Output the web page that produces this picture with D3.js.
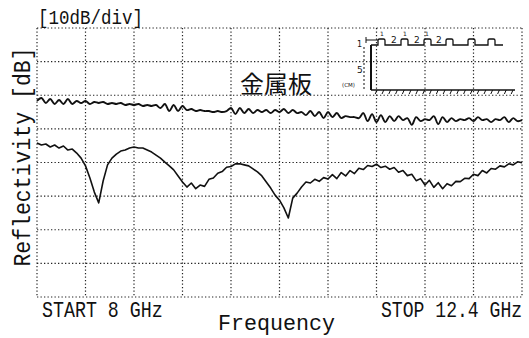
<!DOCTYPE html>
<html>
<head>
<meta charset="utf-8">
<script src="https://cdn.jsdelivr.net/npm/d3@7"></script>
<style>
  body { margin: 0; background: #fff; }
  svg { display: block; }
  .mono { font-family: "Liberation Mono", "DejaVu Sans Mono", monospace; fill: #111; }
</style>
</head>
<body>
<svg id="chart" width="529" height="338"></svg>
<script>

// sweep 8 - 12.4 GHz, one reading every 0.04 GHz (111 points)
let sweepStart = 8
let sweepStop = 12.4
let sweepStep = 0.04

// metal plate reference trace [dB]
let metalDb = [
  -1.7, -0.8, -2.3, -1.1, -2.6, -1.4, -2.6, -1.1, -2.6, -1.7,
  -2.3, -1.7, -2.6, -2.0, -2.3, -2.0, -2.6, -2.3, -2.6, -2.3,
  -2.9, -2.6, -2.9, -2.6, -3.2, -2.9, -3.2, -2.9, -3.8, -2.6,
  -4.7, -2.9, -4.7, -3.2, -4.4, -4.1, -4.7, -4.4, -4.7, -4.7,
  -5.0, -4.7, -5.0, -4.7, -3.8, -5.6, -3.8, -5.3, -4.1, -5.3,
  -4.4, -5.0, -4.4, -5.3, -4.4, -5.0, -4.1, -5.3, -4.4, -5.3,
  -5.0, -5.9, -4.7, -6.2, -5.0, -6.8, -5.0, -6.5, -5.3, -6.8,
  -6.2, -6.5, -6.5, -6.8, -5.3, -7.7, -5.6, -8.0, -5.9, -8.0,
  -6.2, -7.7, -6.2, -7.4, -6.8, -8.8, -6.5, -7.7, -7.1, -7.4,
  -6.2, -8.6, -6.5, -8.0, -6.8, -7.7, -7.1, -7.4, -6.8, -7.7,
  -6.5, -7.4, -7.1, -8.0, -7.1, -7.4, -6.5, -8.0, -6.8, -7.7,
  -7.4
]

// absorber sample trace [dB]
let absorberDb = [
  -14.2, -14.8, -14.5, -15.4, -14.8, -15.7, -15.1, -16.3, -16.0, -17.2,
  -18.7, -21.0, -24.6, -28.8, -32.0, -25.5, -20.7, -18.7, -17.5, -16.6,
  -16.3, -15.7, -15.4, -15.7, -15.7, -16.3, -16.9, -17.8, -18.7, -19.9,
  -21.0, -22.2, -24.0, -25.8, -27.3, -26.1, -27.8, -26.7, -27.1, -25.0,
  -24.6, -23.2, -22.7, -21.4, -21.2, -20.4, -20.4, -20.7, -21.0, -21.9,
  -22.8, -24.0, -25.8, -27.6, -29.7, -31.2, -33.5, -36.5, -30.6, -29.1,
  -27.3, -25.8, -26.1, -25.0, -25.6, -24.5, -24.9, -23.6, -24.8, -23.0,
  -24.0, -22.4, -23.3, -21.7, -22.1, -20.9, -21.2, -20.5, -21.5, -21.1,
  -22.0, -21.5, -22.9, -22.4, -23.9, -23.5, -25.4, -24.8, -26.7, -25.3,
  -27.4, -26.0, -27.8, -26.3, -26.9, -25.6, -25.7, -24.7, -24.8, -23.5,
  -23.9, -22.4, -23.1, -21.8, -22.0, -21.0, -21.3, -20.4, -20.7, -19.8,
  -20.1
]

let dbTop = 20
let dbBottom = -60
let dbPerDiv = 10
let freqDivs = 10

let svg = d3.select("#chart")

let plotLeft = 37, plotRight = 522, plotTop = 28, plotBottom = 297

let x = d3.scaleLinear().domain([sweepStart, sweepStop]).range([plotLeft, plotRight])
let y = d3.scaleLinear().domain([dbBottom, dbTop]).range([plotBottom, plotTop])

let freqs = metalDb.map((d, i) => sweepStart + i * sweepStep)

// dotted graticule
let xGrid = d3.range(0, freqDivs + 1).map(i => sweepStart + i * (sweepStop - sweepStart) / freqDivs)
let yGrid = d3.range(dbBottom, dbTop + 1, dbPerDiv)

svg.append("g")
    .selectAll("line")
    .data(xGrid)
    .join("line")
    .attr("x1", d => x(d)).attr("x2", d => x(d))
    .attr("y1", plotTop).attr("y2", plotBottom)
    .attr("stroke", "#222")
    .attr("stroke-width", 1.2)
    .attr("stroke-dasharray", "1.3,2.2")

svg.append("g")
    .selectAll("line")
    .data(yGrid)
    .join("line")
    .attr("x1", plotLeft).attr("x2", plotRight)
    .attr("y1", d => y(d)).attr("y2", d => y(d))
    .attr("stroke", "#222")
    .attr("stroke-width", 1.2)
    .attr("stroke-dasharray", "1.3,2.2")

// traces
let smoothLine = d3.line()
    .x((d, i) => x(freqs[i]))
    .y(d => y(d))
    .curve(d3.curveCatmullRom.alpha(0.5))

let line = d3.line()
    .x((d, i) => x(freqs[i]))
    .y(d => y(d))

svg.append("path")
    .datum(metalDb)
    .attr("d", smoothLine)
    .attr("fill", "none")
    .attr("stroke", "#111")
    .attr("stroke-width", 1.9)
    .attr("stroke-linejoin", "round")

svg.append("path")
    .datum(absorberDb)
    .attr("d", line)
    .attr("fill", "none")
    .attr("stroke", "#111")
    .attr("stroke-width", 1.6)
    .attr("stroke-linejoin", "round")

// texts (typewriter-ish, a bit taller than wide)
function monoText(str, tx, ty, size, sy, rot) {
    let t = `translate(${tx},${ty})` + (rot ? ` rotate(${rot})` : "") + ` scale(1,${sy})`
    return svg.append("text").attr("class", "mono")
        .attr("transform", t)
        .attr("font-size", size)
        .text(str)
}

monoText("[10dB/div]", 38, 24, 17.5, 1.2)
monoText("Reflectivity [dB]", 30, 157, 21.5, 1.07, -90).attr("text-anchor", "middle")
monoText("START 8 GHz", 42, 317, 18.3, 1.2)
monoText("STOP 12.4 GHz", 381, 317, 18.1, 1.2)
monoText("Frequency", 218, 330, 21.7, 1)

svg.append("text")
    .attr("x", 240).attr("y", 93)
    .attr("font-family", "'Noto Sans CJK JP'")
    .attr("font-size", 24)
    .attr("fill", "#111")
    .text("金属板")

// sample cross-section sketch (top right)
let sketch = svg.append("g").attr("stroke", "#111").attr("fill", "none")

let bumps = [378, 401, 424, 446, 468, 488]
let profile = "M371,45"
bumps.forEach(b => {
    profile += ` H${b} v-4.5 q0,-1.5 1.5,-1.5 h4 q1.5,0 1.5,1.5 v4.5`
})
profile += " H503"

sketch.append("path").attr("d", profile).attr("stroke-width", 1.3)
sketch.append("path").attr("d", "M371,45 V90").attr("stroke-width", 2)
sketch.append("path").attr("d", "M371,90 H515").attr("stroke-width", 1.6)
sketch.append("g")
    .selectAll("path")
    .data(d3.range(377, 515, 6.8))
    .join("path")
    .attr("d", d => `M${d},90 l-1.8,4`)
    .attr("stroke-width", 1)

// dimension marks
sketch.append("path").attr("d", "M364,47 V90").attr("stroke-width", 1).attr("stroke-dasharray", "2,2")
sketch.append("path").attr("d", "M366,40 H378 M366,37 V43").attr("stroke-width", 1)

// tiny labels: grey-scale antialiasing via a rotated group
let small = svg.append("g")
    .attr("font-family", "'DejaVu Sans'")
    .attr("fill", "#111")
    .attr("transform", "rotate(0.01)")
    .attr("opacity", 0.99)
small.append("text").attr("x", 357).attr("y", 47).attr("font-size", 8).text("1")
small.append("text").attr("x", 357).attr("y", 73).attr("font-size", 9).text("5")
small.append("text").attr("x", 342).attr("y", 87).attr("font-size", 5.5).text("(CM)")
;[391, 414, 436].forEach(p => {
    small.append("text").attr("x", p).attr("y", 43).attr("font-size", 9).text("2")
})
;[380, 403, 425].forEach(p => {
    small.append("text").attr("x", p).attr("y", 36).attr("font-size", 6).text("1")
})

</script>
</body>
</html>
